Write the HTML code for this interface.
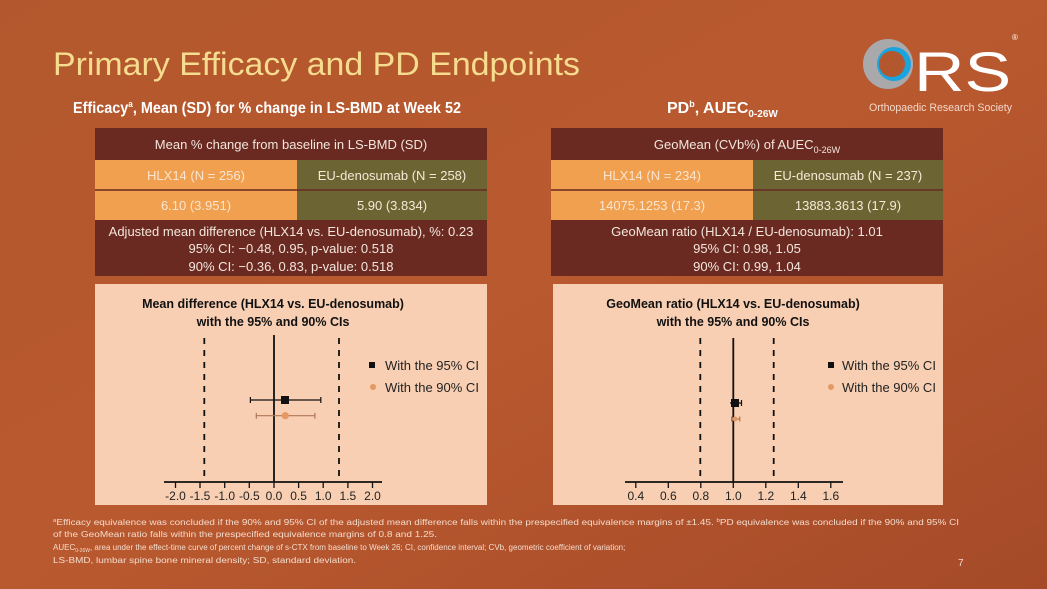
<!DOCTYPE html>
<html><head><meta charset="utf-8"><style>
html,body{margin:0;padding:0}
body{width:1047px;height:589px;overflow:hidden;background:#b4582f}
svg{display:block;font-family:"Liberation Sans",sans-serif}
</style></head><body>
<svg width="1047" height="589" viewBox="0 0 1047 589" xmlns="http://www.w3.org/2000/svg">
<defs>
<linearGradient id="bg" x1="0" y1="0" x2="1" y2="1">
<stop offset="0" stop-color="#b3582e"/><stop offset="0.5" stop-color="#b9592f"/><stop offset="1" stop-color="#a54a28"/>
</linearGradient>
</defs>
<rect width="1047" height="589" fill="url(#bg)"/>
<!-- Title -->
<text x="53" y="75" font-size="32" fill="#f6dc8f" textLength="527" lengthAdjust="spacingAndGlyphs">Primary Efficacy and PD Endpoints</text>
<text x="73" y="113" font-size="16" font-weight="bold" fill="#fff" textLength="388" lengthAdjust="spacingAndGlyphs">Efficacy<tspan font-size="9" dy="-6">a</tspan><tspan dy="6">, Mean (SD) for % change in LS-BMD at Week 52</tspan></text>
<text x="667" y="113" font-size="16" font-weight="bold" fill="#fff">PD<tspan font-size="9" dy="-6">b</tspan><tspan dy="6">, AUEC</tspan><tspan font-size="10" dy="4">0-26W</tspan></text>
<!-- Logo -->
<circle cx="888" cy="64" r="25" fill="#a9a9ab"/>
<circle cx="894" cy="64" r="17" fill="#1aa3dc"/>
<circle cx="892" cy="64" r="13" fill="#b3582e"/>
<text transform="translate(914,91) scale(1.25,1)" font-size="56" fill="#fff">RS</text>
<text x="1012" y="40" font-size="8" fill="#fff">®</text>
<text x="869" y="111" font-size="11" fill="#f4d8c8" textLength="143" lengthAdjust="spacingAndGlyphs">Orthopaedic Research Society</text>
<!-- Left table -->
<g font-size="13" text-anchor="middle">
<rect x="95" y="128" width="392" height="32" fill="#6a2a22"/>
<text x="291" y="149" fill="#f3e6dc">Mean % change from baseline in LS-BMD (SD)</text>
<rect x="95" y="160" width="202" height="30" fill="#f0a04f"/>
<rect x="297" y="160" width="190" height="30" fill="#6c6432"/>
<rect x="95" y="190" width="202" height="30" fill="#f0a04f"/>
<rect x="297" y="190" width="190" height="30" fill="#6c6432"/>
<line x1="95" y1="190" x2="487" y2="190" stroke="#6a2a22" stroke-width="1.5"/>
<text x="196" y="180" fill="#fbe5cf">HLX14 (N = 256)</text>
<text x="392" y="180" fill="#f3ead8">EU-denosumab (N = 258)</text>
<text x="196" y="210" fill="#fbe5cf">6.10 (3.951)</text>
<text x="392" y="210" fill="#f3ead8">5.90 (3.834)</text>
<rect x="95" y="220" width="392" height="56" fill="#6a2a22"/>
<text x="291" y="236" fill="#f3e6dc">Adjusted mean difference (HLX14 vs. EU-denosumab), %: 0.23</text>
<text x="291" y="253" fill="#f3e6dc">95% CI: −0.48, 0.95, p-value: 0.518</text>
<text x="291" y="271" fill="#f3e6dc">90% CI: −0.36, 0.83, p-value: 0.518</text>
<!-- Right table -->
<rect x="551" y="128" width="392" height="32" fill="#6a2a22"/>
<text x="747" y="149" fill="#f3e6dc">GeoMean (CVb%) of AUEC<tspan font-size="9" dy="4">0-26W</tspan></text>
<rect x="551" y="160" width="202" height="30" fill="#f0a04f"/>
<rect x="753" y="160" width="190" height="30" fill="#6c6432"/>
<rect x="551" y="190" width="202" height="30" fill="#f0a04f"/>
<rect x="753" y="190" width="190" height="30" fill="#6c6432"/>
<line x1="551" y1="190" x2="943" y2="190" stroke="#6a2a22" stroke-width="1.5"/>
<text x="652" y="180" fill="#fbe5cf">HLX14 (N = 234)</text>
<text x="848" y="180" fill="#f3ead8">EU-denosumab (N = 237)</text>
<text x="652" y="210" fill="#fbe5cf">14075.1253 (17.3)</text>
<text x="848" y="210" fill="#f3ead8">13883.3613 (17.9)</text>
<rect x="551" y="220" width="392" height="56" fill="#6a2a22"/>
<text x="747" y="236" fill="#f3e6dc">GeoMean ratio (HLX14 / EU-denosumab): 1.01</text>
<text x="747" y="253" fill="#f3e6dc">95% CI: 0.98, 1.05</text>
<text x="747" y="271" fill="#f3e6dc">90% CI: 0.99, 1.04</text>
</g>
<!-- Left chart -->
<rect x="95" y="284" width="392" height="221" fill="#f8cfb2"/>
<g font-size="12.5" font-weight="bold" text-anchor="middle" fill="#111">
<text x="273" y="308">Mean difference (HLX14 vs. EU-denosumab)</text>
<text x="273" y="326">with the 95% and 90% CIs</text>
</g>
<g stroke="#111" fill="none">
<line x1="204.3" y1="338" x2="204.3" y2="482" stroke-width="1.8" stroke-dasharray="6,6"/>
<line x1="339" y1="338" x2="339" y2="482" stroke-width="1.8" stroke-dasharray="6,6"/>
<line x1="274" y1="335" x2="274" y2="482" stroke-width="1.8"/>
<line x1="164" y1="482" x2="382" y2="482" stroke-width="1.8"/>
<path d="M175.5 482v6M200 482v6M224.7 482v6M249.3 482v6M274 482v6M298.6 482v6M323.2 482v6M347.9 482v6M372.5 482v6" stroke-width="1.3"/>
<path d="M250.4 400H320.8M250.4 397v6M320.8 397v6" stroke-width="1.2"/>
<path d="M256.3 415.7H314.9M256.3 412.7v6M314.9 412.7v6" stroke="#b0775a" stroke-width="1.2"/>
</g>
<rect x="281" y="396" width="8" height="8" fill="#111"/>
<circle cx="285.3" cy="415.7" r="3.6" fill="#e49863"/>
<g font-size="12" text-anchor="middle" fill="#222">
<text x="175.5" y="500">-2.0</text><text x="200" y="500">-1.5</text><text x="224.7" y="500">-1.0</text><text x="249.3" y="500">-0.5</text><text x="274" y="500">0.0</text><text x="298.6" y="500">0.5</text><text x="323.2" y="500">1.0</text><text x="347.9" y="500">1.5</text><text x="372.5" y="500">2.0</text>
</g>
<rect x="369" y="362" width="6" height="6" fill="#111"/>
<circle cx="373" cy="387" r="3" fill="#e49863"/>
<text x="385" y="370" font-size="13" fill="#222">With the 95% CI</text>
<text x="385" y="392" font-size="13" fill="#222">With the 90% CI</text>
<!-- Right chart -->
<rect x="553" y="284" width="390" height="221" fill="#f8cfb2"/>
<g font-size="12.5" font-weight="bold" text-anchor="middle" fill="#111">
<text x="733" y="308">GeoMean ratio (HLX14 vs. EU-denosumab)</text>
<text x="733" y="326">with the 95% and 90% CIs</text>
</g>
<g stroke="#111" fill="none">
<line x1="700.3" y1="338" x2="700.3" y2="482" stroke-width="1.8" stroke-dasharray="6,6"/>
<line x1="773.7" y1="338" x2="773.7" y2="482" stroke-width="1.8" stroke-dasharray="6,6"/>
<line x1="733.3" y1="338" x2="733.3" y2="482" stroke-width="1.8"/>
<line x1="625" y1="482" x2="843" y2="482" stroke-width="1.8"/>
<path d="M635.8 482v6M668.3 482v6M700.8 482v6M733.3 482v6M765.8 482v6M798.3 482v6M830.8 482v6" stroke-width="1.3"/>
<path d="M730 403H741.5M741.5 400v6" stroke-width="1.2"/>
<path d="M731.6 419H739.8M731.6 416.5v5M739.8 416.5v5" stroke="#b0775a" stroke-width="1.2"/>
</g>
<rect x="731" y="399" width="8" height="8" fill="#111"/>
<circle cx="735" cy="419" r="2.5" fill="#e49863"/>
<g font-size="12" text-anchor="middle" fill="#222">
<text x="635.8" y="500">0.4</text><text x="668.3" y="500">0.6</text><text x="700.8" y="500">0.8</text><text x="733.3" y="500">1.0</text><text x="765.8" y="500">1.2</text><text x="798.3" y="500">1.4</text><text x="830.8" y="500">1.6</text>
</g>
<rect x="828" y="362" width="6" height="6" fill="#111"/>
<circle cx="831" cy="387" r="3" fill="#e49863"/>
<text x="842" y="370" font-size="13" fill="#222">With the 95% CI</text>
<text x="842" y="392" font-size="13" fill="#222">With the 90% CI</text>
<!-- Footnotes -->
<g font-size="8" fill="#f4dccd">
<text x="53" y="525" textLength="906" lengthAdjust="spacingAndGlyphs"><tspan font-size="5" dy="-3">a</tspan><tspan dy="3">Efficacy equivalence was concluded if the 90% and 95% CI of the adjusted mean difference falls within the prespecified equivalence margins of ±1.45. </tspan><tspan font-size="5" dy="-3">b</tspan><tspan dy="3">PD equivalence was concluded if the 90% and 95% CI</tspan></text>
<text x="53" y="537" textLength="384" lengthAdjust="spacingAndGlyphs">of the GeoMean ratio falls within the prespecified equivalence margins of 0.8 and 1.25.</text>
<text x="53" y="550" font-size="8"><tspan font-size="8">AUEC</tspan><tspan font-size="5" dy="2">0-26W</tspan><tspan font-size="8" dy="-2">, area under the effect-time curve of percent change of s-CTX from baseline to Week 26; CI, confidence interval; CVb, geometric coefficient of variation;</tspan></text>
<text x="53" y="563" textLength="303" lengthAdjust="spacingAndGlyphs">LS-BMD, lumbar spine bone mineral density; SD, standard deviation.</text>
</g>
<text x="958" y="566" font-size="10" fill="#f4dccd">7</text>
</svg>
</body></html>
